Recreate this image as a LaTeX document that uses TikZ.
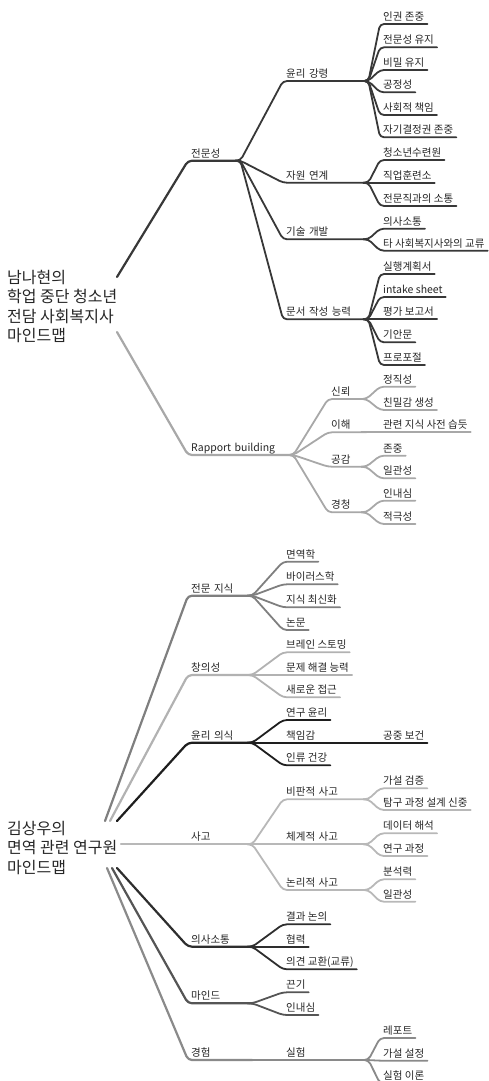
\documentclass[tikz,border=0pt]{standalone}
\usepackage{fontspec}
\setmainfont{Noto Sans CJK KR}
\definecolor{txt}{HTML}{262626}
\definecolor{proline}{HTML}{383838}
\definecolor{rapline}{HTML}{A8A8A8}
\definecolor{knowline}{HTML}{7F7F7F}
\definecolor{idealine}{HTML}{B2B2B2}
\definecolor{ethline}{HTML}{1E1E1E}
\definecolor{thinkline}{HTML}{B8B8B8}
\definecolor{talkline}{HTML}{2E2E2E}
\definecolor{mindline}{HTML}{555555}
\definecolor{expline}{HTML}{8A8A8A}
\tikzset{
  root/.style={anchor=north west, inner sep=0pt, align=left, text=txt,
    font=\fontsize{16}{19.3}\selectfont},
  topic/.style={anchor=south west, inner xsep=3pt, inner ysep=2.5pt,
    text height=8pt, text depth=1pt, text=txt,
    font=\fontsize{10.5}{12}\selectfont},
  link/.style={line width=1.8pt, line cap=round, line join=round, rounded corners=4pt},
  trunk/.style={link, line width=2.2pt},
}
\begin{document}
\begin{tikzpicture}[x=1pt, y=-1pt]
\useasboundingbox (0,0) rectangle (489,1081);

% first map
\node[root] (r1) at (7,270) {남나현의\\학업 중단 청소년\\전담 사회복지사\\마인드맵};
\coordinate (r1up) at (117,277);
\coordinate (r1dn) at (117,332);

\node[topic, text width=46pt] (pro) at (188,160.7) {전문성};
\node[topic, text width=99pt] (rap) at (188,455) {Rapport building};

\node[topic, text width=79pt] (code) at (283,81) {윤리 강령};
\node[topic, text width=79pt] (res) at (283,182.7) {자원 연계};
\node[topic, text width=79pt] (skill) at (283,239.3) {기술 개발};
\node[topic, text width=79pt] (doc) at (283,319.3) {문서 작성 능력};

\node[topic] (code1) at (380,24) {인권 존중};
\node[topic] (code2) at (380,47.3) {전문성 유지};
\node[topic] (code3) at (380,70) {비밀 유지};
\node[topic] (code4) at (380,92.3) {공정성};
\node[topic] (code5) at (380,115) {사회적 책임};
\node[topic] (code6) at (380,137.3) {자기결정권 존중};
\node[topic] (res1) at (380,160) {청소년수련원};
\node[topic] (res2) at (380,182.7) {직업훈련소};
\node[topic] (res3) at (380,206) {전문직과의 소통};
\node[topic] (skill1) at (380,228.7) {의사소통};
\node[topic] (skill2) at (380,250.7) {타 사회복지사와의 교류};
\node[topic] (doc1) at (380,274) {실행계획서};
\node[topic] (doc2) at (380,297) {intake sheet};
\node[topic] (doc3) at (380,319.3) {평가 보고서};
\node[topic] (doc4) at (380,342.3) {기안문};
\node[topic] (doc5) at (380,365) {프로포절};

\node[topic, text width=32pt] (trust) at (328,399) {신뢰};
\node[topic, text width=32pt] (know) at (328,432.3) {이해};
\node[topic, text width=32pt] (emp) at (328,466.7) {공감};
\node[topic, text width=32pt] (listen) at (328,512.3) {경청};
\node[topic] (trust1) at (380,386.7) {정직성};
\node[topic] (trust2) at (380,410) {친밀감 생성};
\node[topic] (know1) at (380,432.3) {관련 지식 사전 습듯};
\node[topic] (emp1) at (380,455.7) {존중};
\node[topic] (emp2) at (380,478.3) {일관성};
\node[topic] (listen1) at (380,500.7) {인내심};
\node[topic] (listen2) at (380,524) {적극성};

\draw[trunk, proline] (r1up) -- (pro.south west) -- (pro.south east);
\draw[trunk, rapline] (r1dn) -- (rap.south west) -- (rap.south east);
\foreach \p/\c in {pro/code, pro/res, pro/skill, pro/doc,
  code/code1, code/code2, code/code3, code/code4, code/code5, code/code6,
  res/res1, res/res2, res/res3, skill/skill1, skill/skill2,
  doc/doc1, doc/doc2, doc/doc3, doc/doc4, doc/doc5}
  \draw[link, proline] ([xshift=-5pt]\p.south east) -- (\p.south east) -- (\c.south west) -- (\c.south east);
\foreach \p/\c in {rap/trust, rap/know, rap/emp, rap/listen,
  trust/trust1, trust/trust2, know/know1, emp/emp1, emp/emp2,
  listen/listen1, listen/listen2}
  \draw[link, rapline] ([xshift=-5pt]\p.south east) -- (\p.south east) -- (\c.south west) -- (\c.south east);

% second map
\node[root] (r2) at (7,821) {김상우의\\면역 관련 연구원\\마인드맵};
\coordinate (r2a) at (105,821);
\coordinate (r2b) at (110,821);
\coordinate (r2c) at (117,821);
\coordinate (r2d) at (121,844.3);
\coordinate (r2e) at (117,868);
\coordinate (r2f) at (112,868);
\coordinate (r2g) at (107,868);

\node[topic, text width=58pt] (kn) at (188,595.7) {전문 지식};
\node[topic, text width=58pt] (cr) at (188,675) {창의성};
\node[topic, text width=58pt] (et) at (188,742.7) {윤리 의식};
\node[topic, text width=58pt] (th) at (188,844.3) {사고};
\node[topic, text width=58pt] (co) at (188,946.7) {의사소통};
\node[topic, text width=58pt] (mi) at (188,1003.3) {마인드};
\node[topic, text width=58pt] (ex) at (188,1060) {경험};

\node[topic] (kn1) at (283,561.7) {면역학};
\node[topic] (kn2) at (283,584.3) {바이러스학};
\node[topic] (kn3) at (283,607.3) {지식 최신화};
\node[topic] (kn4) at (283,630) {논문};
\node[topic] (cr1) at (283,652.3) {브레인 스토밍};
\node[topic] (cr2) at (283,675) {문제 해결 능력};
\node[topic] (cr3) at (283,697.3) {새로운 접근};
\node[topic] (et1) at (283,720) {연구 윤리};
\node[topic] (et2) at (283,742.7) {책임감};
\node[topic] (et3) at (283,765.3) {인류 건강};
\node[topic] (et21) at (380,742.7) {공중 보건};
\node[topic, text width=79pt] (th1) at (283,799.3) {비판적 사고};
\node[topic, text width=79pt] (th2) at (283,844.3) {체계적 사고};
\node[topic, text width=79pt] (th3) at (283,890) {논리적 사고};
\node[topic] (th11) at (380,788.3) {가설 검증};
\node[topic] (th12) at (380,810) {탐구 과정 설계 신중};
\node[topic] (th21) at (380,833.3) {데이터 해석};
\node[topic] (th22) at (380,856) {연구 과정};
\node[topic] (th31) at (380,879.3) {분석력};
\node[topic] (th32) at (380,901.7) {일관성};
\node[topic] (co1) at (283,924.3) {결과 논의};
\node[topic] (co2) at (283,946.7) {협력};
\node[topic] (co3) at (283,969.3) {의견 교환(교류)};
\node[topic] (mi1) at (283,992.3) {끈기};
\node[topic] (mi2) at (283,1015) {인내심};
\node[topic, text width=79pt] (ex1) at (283,1060) {실험};
\node[topic] (ex11) at (380,1038) {레포트};
\node[topic] (ex12) at (380,1060.7) {가설 설정};
\node[topic] (ex13) at (380,1083.3) {실험 이론};

\draw[trunk, knowline] (r2a) -- (kn.south west) -- (kn.south east);
\draw[trunk, idealine] (r2b) -- (cr.south west) -- (cr.south east);
\draw[trunk, ethline] (r2c) -- (et.south west) -- (et.south east);
\draw[trunk, thinkline] (r2d) -- (th.south west) -- (th.south east);
\draw[trunk, talkline] (r2e) -- (co.south west) -- (co.south east);
\draw[trunk, mindline] (r2f) -- (mi.south west) -- (mi.south east);
\draw[trunk, expline] (r2g) -- (ex.south west) -- (ex.south east);
\foreach \p/\c/\col in {kn/kn1/knowline, kn/kn2/knowline, kn/kn3/knowline, kn/kn4/knowline,
  cr/cr1/idealine, cr/cr2/idealine, cr/cr3/idealine,
  et/et1/ethline, et/et2/ethline, et/et3/ethline, et2/et21/ethline,
  th/th1/thinkline, th/th2/thinkline, th/th3/thinkline,
  th1/th11/thinkline, th1/th12/thinkline, th2/th21/thinkline, th2/th22/thinkline,
  th3/th31/thinkline, th3/th32/thinkline,
  co/co1/talkline, co/co2/talkline, co/co3/talkline,
  mi/mi1/mindline, mi/mi2/mindline,
  ex/ex1/expline, ex1/ex11/expline, ex1/ex12/expline, ex1/ex13/expline}
  \draw[link, \col] ([xshift=-5pt]\p.south east) -- (\p.south east) -- (\c.south west) -- (\c.south east);
\end{tikzpicture}
\end{document}
